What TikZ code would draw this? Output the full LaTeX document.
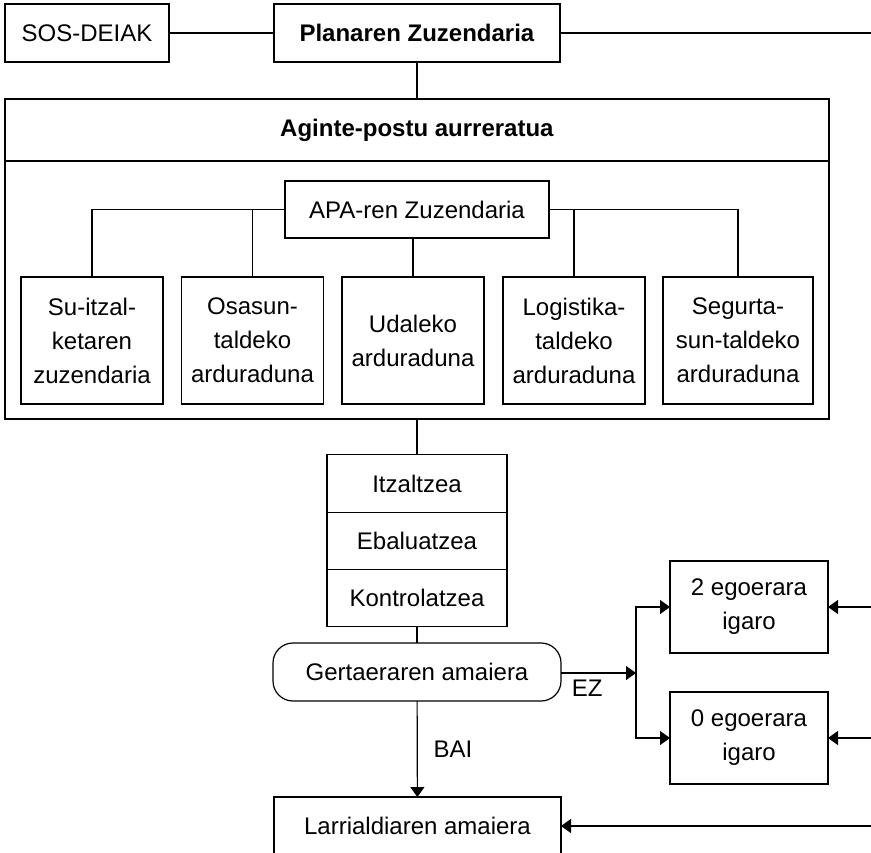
\documentclass[tikz,border=0pt]{standalone}
\usepackage{fontspec}
\setmainfont{Liberation Sans}
\usetikzlibrary{arrows.meta,positioning}

\begin{document}
\begin{tikzpicture}[x=0.5pt,y=-0.5pt,>={Triangle[length=5pt,width=7pt]},
    line width=0.6pt, font=\fontsize{12}{17}\selectfont,
    box/.style={rectangle, draw=black, align=center, inner sep=2pt, outer sep=0pt},
    rolebox/.style={box, minimum width=71pt, minimum height=63.5pt},
    stepcell/.style={box, minimum width=90pt, minimum height=28.67pt},
    egoerabox/.style={box, minimum width=79pt, minimum height=46pt}]
  \useasboundingbox (0,0) rectangle (871,852);

  % goiko lerroa
  \node[box, minimum width=82pt, minimum height=29pt]  (sos)  at (87,33)  {SOS-DEIAK};
  \node[box, minimum width=143pt, minimum height=29pt] (plan) at (417,33) {\textbf{Planaren Zuzendaria}};
  \coordinate (edgetop) at (871,33);

  % aginte-postu aurreratua
  \node[box, minimum width=412pt, minimum height=160pt] (agpost) at (417,259) {};
  \node (agtitle) at (417,130) {\textbf{Aginte-postu aurreratua}};
  \node[box, minimum width=132pt, minimum height=28.5pt] (apa) at (417,209.5) {APA-ren Zuzendaria};

  \node[rolebox] (suitz) at (92,340.5)    {Su-itzal-\\ketaren\\zuzendaria};
  \node[rolebox] (osas)  at (252.5,340.5) {Osasun-\\taldeko\\arduraduna};
  \node[rolebox] (udal)  at (413,340.5)   {Udaleko\\arduraduna};
  \node[rolebox] (logis) at (574,340.5)   {Logistika-\\taldeko\\arduraduna};
  \node[rolebox, minimum width=75pt] (segur) at (738,340.5) {Segurta-\\sun-taldeko\\arduraduna};

  % urratsak
  \node[stepcell] (itzal)   at (417,483.5)   {Itzaltzea};
  \node[stepcell] (ebal)    [below=0pt of itzal] {Ebaluatzea};
  \node[stepcell] (kontrol) [below=0pt of ebal]  {Kontrolatzea};

  \node[box, rounded corners=10pt, minimum width=144pt, minimum height=29pt] (gert) at (417,672) {Gertaeraren amaiera};
  \node[egoerabox] (egoera2) at (749,607) {2 egoerara\\igaro};
  \node[egoerabox] (egoera0) at (749,738) {0 egoerara\\igaro};
  \node[box, minimum width=143.5pt, minimum height=29pt] (larri) at (417.5,826) {Larrialdiaren amaiera};

  \coordinate (split) at (636,673);
  \coordinate (edge2) at (871,607);
  \coordinate (edge0) at (871,738);
  \coordinate (edgel) at (871,826);

  % loturak
  \draw (sos) -- (plan);
  \draw (plan) -- (edgetop);
  \draw (plan) -- (agpost);
  \draw (agpost.west |- 0,161) -- (agpost.east |- 0,161);
  \draw (apa.west) -| (suitz.north);
  \draw (osas.north) |- (apa.west);
  \draw (udal.north) -- (udal.north |- apa.south);
  \draw (apa.east) -| (segur.north);
  \draw (logis.north) |- (apa.east);
  \draw (agpost) -- (itzal);
  \draw (kontrol) -- (gert);
  \draw[->] (gert.east |- split) -- node[below, pos=0.35] {EZ} (split);
  \draw[->] (split) |- (egoera2.west);
  \draw[->] (split) |- (egoera0.west);
  \draw[->] (edge2) -- (egoera2.east);
  \draw[->] (edge0) -- (egoera0.east);
  \draw[->] (gert) -- node[right=4.5pt] {BAI} (larri);
  \draw[->] (edgel) -- (larri.east);
\end{tikzpicture}
\end{document}
